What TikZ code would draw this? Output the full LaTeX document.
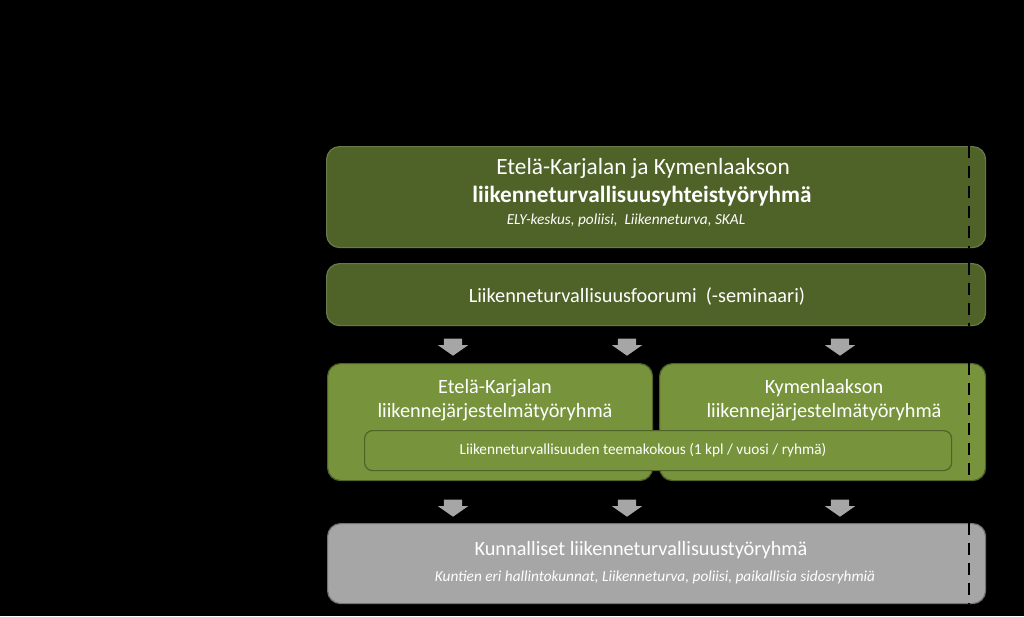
\documentclass[tikz,border=0pt]{standalone}
\usepackage{fontspec}
\setmainfont{Carlito}
\usetikzlibrary{shapes.arrows}
\definecolor{darkolive}{HTML}{4F6228}
\definecolor{lightolive}{HTML}{77933C}
\definecolor{midgray}{HTML}{A6A6A6}
\definecolor{arrowgray}{HTML}{A6A6A6}
\tikzset{
  box/.style={draw, line width=1.2pt, rounded corners=13pt, anchor=north west, inner sep=0pt},
  darkbox/.style={box, fill=darkolive, draw=darkolive!85!white},
  lightbox/.style={box, fill=lightolive, draw=darkolive},
  graybox/.style={box, fill=midgray, draw=black!55},
  txt/.style={text=white, font=\fontsize{20.3}{24}\selectfont, align=center},
  small/.style={text=white, font=\fontsize{15.3}{17}\selectfont\itshape},
  darr/.style={fill=arrowgray, draw=none, single arrow, shape border rotate=270, minimum height=17pt, minimum width=0pt, single arrow head extend=6pt, single arrow tip angle=110, inner sep=0pt, text width=18pt},
  dashln/.style={black, line width=2.2pt, dash pattern=on 12pt off 8pt},
}
\begin{document}
\begin{tikzpicture}[x=1pt,y=-1pt]
\useasboundingbox[fill=black] (0,0) rectangle (1024,616);
% boxes
\node[darkbox, minimum width=659pt, minimum height=101pt] (b1) at (326,146) {};
\node[darkbox, minimum width=659pt, minimum height=62pt] (b2) at (326,263) {};
\node[lightbox, minimum width=325pt, minimum height=117pt] (b3l) at (327,363) {};
\node[lightbox, minimum width=326pt, minimum height=117pt] (b3r) at (659,363) {};
\node[lightbox, rounded corners=8pt, minimum width=587pt, minimum height=40pt] (inner) at (364,430) {};
\node[graybox, minimum width=658pt, minimum height=80pt] (b4) at (327,523) {};
% dashed lines
\foreach \b in {b1,b2,b3r,b4}{
  \coordinate (t\b) at ([xshift=-17pt]\b.north east);
  \coordinate (u\b) at ([xshift=-17pt]\b.south east);
  \draw[dashln] (t\b) -- (u\b);
}
% texts
\node[txt, font=\fontsize{23.3}{26}\selectfont] (t1a) at (643,168) {Etelä-Karjalan ja Kymenlaakson};
\node[txt, font=\fontsize{23.3}{26}\selectfont\bfseries] (t1b) at (642,196) {liikenneturvallisuusyhteistyöryhmä};
\node[small] (t1c) at (626,220) {ELY-keskus, poliisi,\ \ Liikenneturva, SKAL};
\node[txt] (t2) at (637,296) {Liikenneturvallisuusfoorumi\ \ (-seminaari)};
\node[txt] (t3l) at (495,400) {Etelä-Karjalan\\liikennejärjestelmätyöryhmä};
\node[txt] (t3r) at (824,400) {Kymenlaakson\\liikennejärjestelmätyöryhmä};
\node[text=white, font=\fontsize{15.3}{17}\selectfont] (ti) at (643,450) {Liikenneturvallisuuden teemakokous (1 kpl / vuosi / ryhmä)};
\node[txt] (t4a) at (641,550) {Kunnalliset liikenneturvallisuustyöryhmä};
\node[small] (t4b) at (655,577) {Kuntien eri hallintokunnat,\ Liikenneturva, poliisi, paikallisia sidosryhmiä};
% arrows
\foreach \x/\n in {453/a1,627/a2,840/a3}{
  \node[darr] (\n) at (\x,344) {};
}
\foreach \x/\n in {453/c1,627/c2,840/c3}{
  \node[darr] (\n) at (\x,505) {};
}
\end{tikzpicture}
\end{document}
